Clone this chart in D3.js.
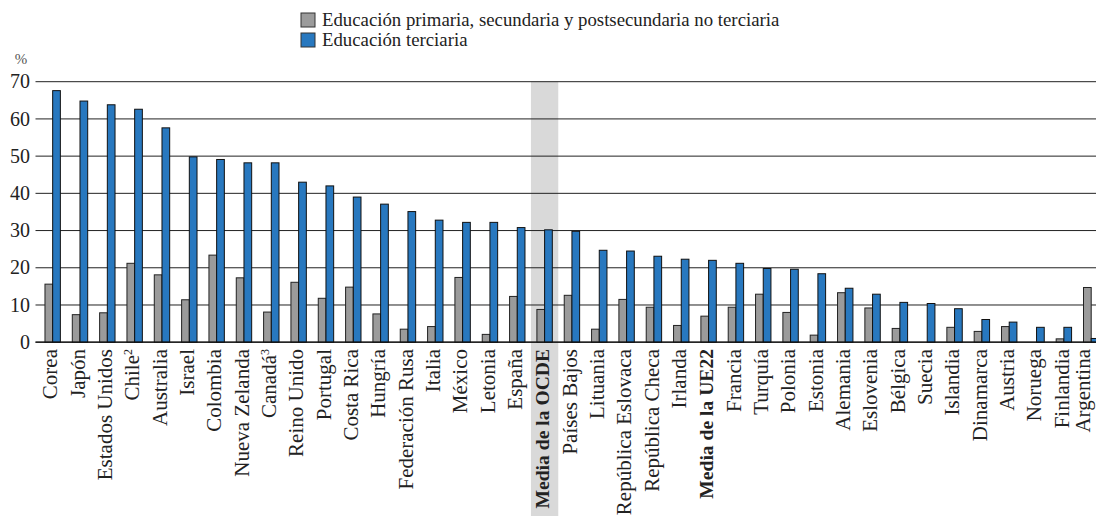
<!DOCTYPE html>
<html><head><meta charset="utf-8">
<script src="https://cdn.jsdelivr.net/npm/d3@7"></script>
<style>
html,body{margin:0;padding:0;background:#fff;}
svg{display:block;}
</style>
</head><body>
<svg id="chart" width="1096" height="516"></svg>
<script>
const categories = ["Corea","Japón","Estados Unidos","Chile","Australia","Israel","Colombia","Nueva Zelanda","Canadá","Reino Unido","Portugal","Costa Rica","Hungría","Federación Rusa","Italia","México","Letonia","España","Media de la OCDE","Países Bajos","Lituania","República Eslovaca","República Checa","Irlanda","Media de la UE22","Francia","Turquía","Polonia","Estonia","Alemania","Eslovenia","Bélgica","Suecia","Islandia","Dinamarca","Austria","Noruega","Finlandia","Argentina"];
const superscripts = {"Chile":"2","Canadá":"3"};
const boldCategories = ["Media de la OCDE","Media de la UE22"];
const highlightCategory = "Media de la OCDE";
const nonTertiary = [15.6,7.4,7.9,21.2,18.1,11.4,23.4,17.3,8.1,16.1,11.8,14.8,7.6,3.5,4.2,17.4,2.1,12.3,8.8,12.6,3.5,11.5,9.4,4.5,7.0,9.4,12.9,8.0,1.9,13.3,9.2,3.7,null,4.0,2.9,4.2,null,0.9,14.7];
const tertiary = [67.6,64.8,63.8,62.6,57.6,49.8,49.1,48.2,48.2,43.0,42.0,39.0,37.1,35.1,32.8,32.2,32.2,30.8,30.2,29.8,24.7,24.5,23.1,22.3,22.0,21.2,19.8,19.6,18.4,14.5,12.9,10.7,10.4,9.0,6.1,5.4,4.0,4.0,1.0];
const seriesNames = ["Educación primaria, secundaria y postsecundaria no terciaria","Educación terciaria"];
const seriesColors = ["#9b9b9b","#2878bf"];
const yTicks = [0,10,20,30,40,50,60,70];
const yUnit = "%";

const svg = d3.select("#chart");
const FONT = "'Liberation Serif', serif";

const x = d3.scaleBand().domain(categories).range([39, 39 + 39*27.33]).padding(0);
const y = d3.scaleLinear().domain([0,70]).range([342.2, 81.7]);
const barW = 7.7;

// highlight band
svg.append("rect")
  .attr("x", x(highlightCategory)).attr("y", y(70))
  .attr("width", x.bandwidth()).attr("height", 516 - y(70))
  .attr("fill", "#d9d9d9");

// gridlines
svg.append("g").selectAll("line").data(yTicks).join("line")
  .attr("x1", 35.5).attr("x2", 1096)
  .attr("y1", d => y(d)).attr("y2", d => y(d))
  .attr("stroke", "#222").attr("stroke-width", 1);

// y tick labels
svg.append("g").selectAll("text").data(yTicks).join("text")
  .attr("x", 30).attr("y", d => y(d)).attr("dy", "0.33em")
  .attr("text-anchor", "end")
  .attr("font-family", FONT).attr("font-size", 20).attr("fill", "#222")
  .text(d => d);

svg.append("text").attr("x", 21).attr("y", 64).attr("text-anchor", "middle")
  .attr("font-family", FONT).attr("font-size", 15).attr("fill", "#555").text(yUnit);

// bars
const g = svg.append("g");
categories.forEach((c, i) => {
  const cx = x(c) + x.bandwidth()/2;
  if (nonTertiary[i] != null) {
    g.append("rect").attr("x", cx - barW).attr("y", y(nonTertiary[i]))
      .attr("width", barW).attr("height", y(0) - y(nonTertiary[i]))
      .attr("fill", seriesColors[0]).attr("stroke", "#222").attr("stroke-width", 1);
  }
  if (tertiary[i] != null) {
    g.append("rect").attr("x", cx).attr("y", y(tertiary[i]))
      .attr("width", barW).attr("height", y(0) - y(tertiary[i]))
      .attr("fill", seriesColors[1]).attr("stroke", "#111").attr("stroke-width", 1);
  }
});

// baseline
svg.append("line").attr("x1", 35.5).attr("x2", 1096).attr("y1", y(0)).attr("y2", y(0))
  .attr("stroke", "#111").attr("stroke-width", 1.2);

// category labels
const lab = svg.append("g").selectAll("text").data(categories).join("text")
  .attr("transform", d => `translate(${Math.min(x(d) + x.bandwidth()/2, 1085)},349) rotate(-90)`)
  .attr("dy", "0.22em")
  .attr("text-anchor", "end")
  .attr("font-family", FONT)
  .attr("font-size", d => boldCategories.includes(d) ? 19.6 : 21)
  .attr("fill", "#222")
  .attr("font-weight", d => boldCategories.includes(d) ? "bold" : "normal");
lab.each(function(d){
  const t = d3.select(this);
  t.append("tspan").text(d);
  if (superscripts[d]) {
    t.append("tspan").attr("font-size", 12).attr("baseline-shift", "super").text(superscripts[d]);
  }
});

// legend
const leg = svg.append("g");
seriesNames.forEach((s, i) => {
  leg.append("rect").attr("x", 301).attr("y", 13 + i*20).attr("width", 14).attr("height", 14)
    .attr("fill", seriesColors[i]).attr("stroke", "#333").attr("stroke-width", 1);
  leg.append("text").attr("x", 322).attr("y", 20 + i*20).attr("dy", "0.33em")
    .attr("font-family", FONT).attr("font-size", 18.8).attr("fill", "#222").text(s);
});
</script>
</body></html>
